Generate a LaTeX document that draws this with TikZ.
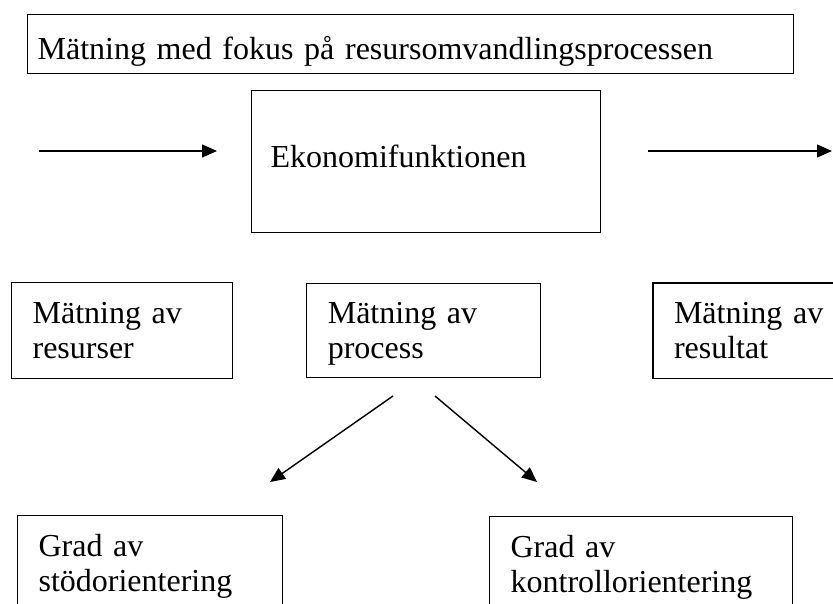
\documentclass[tikz,border=0pt]{standalone}
\usepackage{fontspec}
\setmainfont{Liberation Serif}
\usetikzlibrary{positioning,arrows.meta}

\begin{document}
\begin{tikzpicture}[x=1pt,y=-1pt,
  box/.style={draw, line width=1.2pt, inner xsep=21pt, inner ysep=0pt, align=left, text height=28pt, text depth=42pt, font=\fontsize{32}{35}\selectfont},
  pil/.style={line width=1.4pt, -{Triangle[length=15pt,width=13pt]}}]
\clip (0,0) rectangle (833,604);
%the heading and the function in the middle
\node[box, inner xsep=10pt, text width=746pt, text height=41pt, text depth=10pt, minimum height=59pt, anchor=north west] (fokus) at (27,14) {M\"atning med fokus p\aa{} resursomvandlingsprocessen};
\node[box, inner xsep=19pt, text width=311pt, text height=22pt, text depth=10pt, minimum height=142pt, anchor=north west] (ekonomi) at (251,90) {Ekonomifunktionen};
\coordinate (inA) at (39,151);
\coordinate (inB) at (217,151);
\coordinate (utA) at (648,151);
\coordinate (utB) at (832,151);
\draw[pil] (inA) -- (inB);
\draw[pil] (utA) -- (utB);
%the three measurements
\node[box, text width=179pt, minimum height=96pt, anchor=north west] (resurser) at (11,282) {M\"atning av\\resurser};
\node[box, text width=192pt, minimum height=94pt, right=73pt of resurser] (process) {M\"atning av\\process};
\node[box, text width=183pt, minimum height=95pt, right=111pt of process] (resultat) {M\"atning av\\resultat};
%the two degrees at the bottom
\node[box, text width=223pt, minimum height=96pt, anchor=north west] (stod) at (17,515) {Grad av\\st\"odorientering};
\node[box, text width=261pt, minimum height=96pt, anchor=north west] (kontroll) at (489,516) {Grad av\\kontrollorientering};
\coordinate (d1) at (393,396);
\coordinate (d2) at (270,482);
\coordinate (d3) at (435,396);
\coordinate (d4) at (537,482);
\draw[pil] (d1) -- (d2);
\draw[pil] (d3) -- (d4);
\end{tikzpicture}
\end{document}
